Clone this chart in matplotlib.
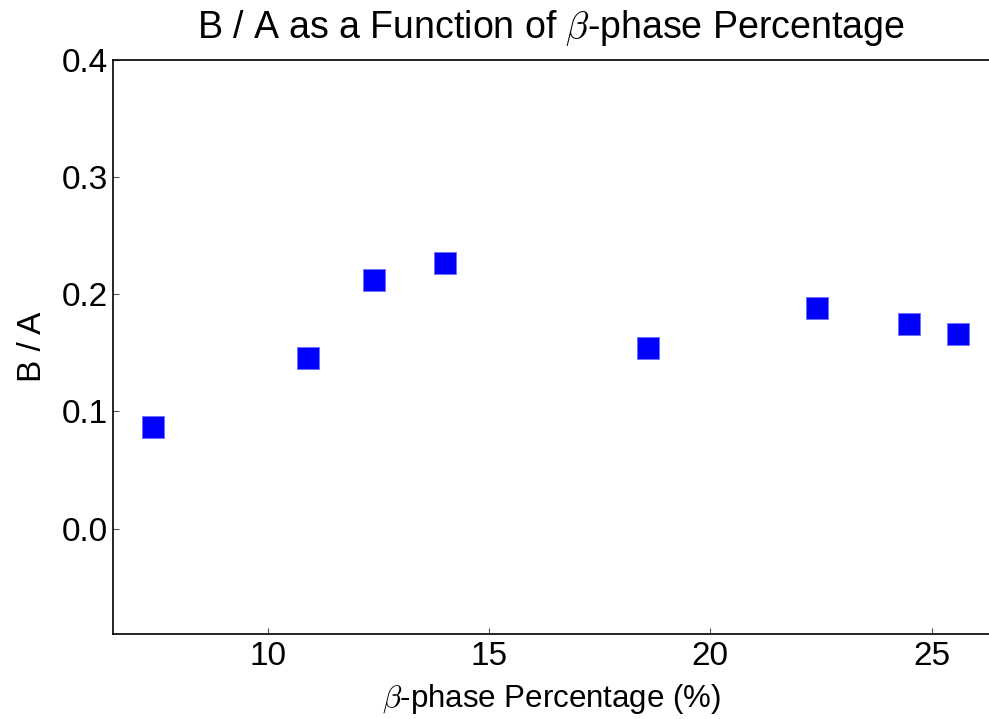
import matplotlib
matplotlib.use("Agg")
import matplotlib.pyplot as plt

# beta-phase percentage and B/A ratio
beta_pct = [7.4, 10.9, 12.4, 14.0, 18.6, 22.4, 24.5, 25.6]
ratio_ba = [0.087, 0.146, 0.2125, 0.2265, 0.154, 0.188, 0.1745, 0.166]

xticks = [10, 15, 20, 25]
yticks = [0.0, 0.1, 0.2, 0.3, 0.4]

plt.rcParams['font.family'] = ['Liberation Sans', 'DejaVu Sans']
plt.rcParams['mathtext.fontset'] = 'cm'

fig = plt.figure(figsize=(9.89, 7.19), dpi=100)
ax = fig.add_axes([113.3 / 989, 1 - 634.3 / 719, (989 - 113.3) / 989, (634.3 - 60) / 719])

ax.plot(beta_pct, ratio_ba, 's', color='blue', markersize=15.5,
        markeredgecolor='#6f6fff', markeredgewidth=0.6, linestyle='none')

ax.set_xlim(6.5, 26.3)
ax.set_ylim(-0.0902, 0.4)
ax.set_xticks(xticks)
ax.set_yticks(yticks)
ax.set_yticklabels([f"{v:.1f}" for v in yticks])
ax.tick_params(direction='in', length=4, width=0.8, color='#555555',
               labelsize=24, pad=4)
ax.tick_params(axis='x', pad=5)

ax.spines['right'].set_visible(False)
for s in ['left', 'bottom', 'top']:
    ax.spines[s].set_linewidth(1.2)

ax.set_title(r'B / A as a Function of $\beta$-phase Percentage', fontsize=27, pad=16)
ax.set_xlabel(r'$\beta$-phase Percentage (%)', fontsize=22.5, labelpad=7)
ax.set_ylabel('B / A', fontsize=24, labelpad=10)

fig.savefig('out.png', dpi=100)
